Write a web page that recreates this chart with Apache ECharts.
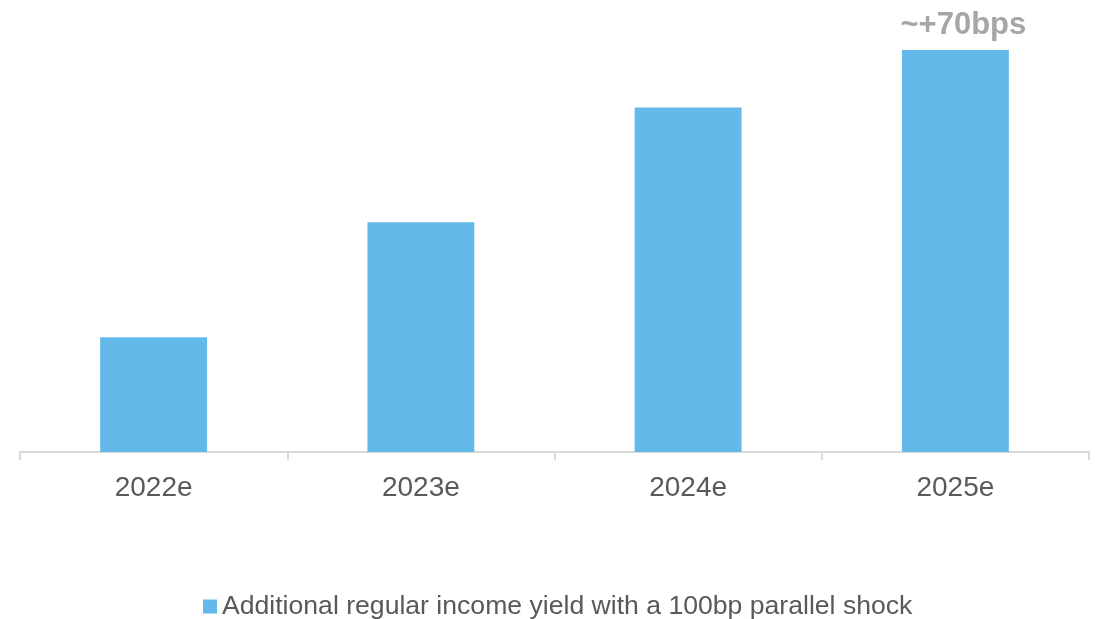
<!DOCTYPE html>
<html>
<head>
<meta charset="utf-8">
<script src="https://cdn.jsdelivr.net/npm/echarts@6/dist/echarts.min.js"></script>
<style>
  html, body { margin: 0; padding: 0; background: #ffffff; }
  #chart { width: 1095px; height: 619px; }
</style>
</head>
<body>
<div id="chart"></div>
<script>
// Years shown on the category axis
const categories = ['2022e', '2023e', '2024e', '2025e'];
// Additional regular income yield (bps) per year
const yieldBps = [20, 40, 60, 70];
const seriesName = 'Additional regular income yield with a 100bp parallel shock';
const lastLabel = '~+70bps';

const chart = echarts.init(document.getElementById('chart'), null, { renderer: 'canvas' });

chart.setOption({
  animation: false,
  backgroundColor: '#ffffff',
  grid: { left: 20, right: 6, top: 50, bottom: 167, containLabel: false },
  legend: {
    top: 588,
    left: 198,
    itemWidth: 14,
    itemHeight: 14,
    itemGap: 4,
    icon: 'rect',
    textStyle: { fontFamily: 'Liberation Sans, Arial, sans-serif', fontSize: 26.6, color: '#595959', padding: [0, 0, 0, 0] },
    data: [seriesName]
  },
  xAxis: {
    type: 'category',
    data: categories,
    boundaryGap: true,
    axisLine: { lineStyle: { color: '#d9d9d9', width: 2 } },
    axisTick: { show: true, length: 8, lineStyle: { color: '#d9d9d9', width: 2 } },
    axisLabel: {
      fontFamily: 'Liberation Sans, Arial, sans-serif',
      fontSize: 28,
      color: '#595959',
      margin: 22
    }
  },
  yAxis: {
    type: 'value',
    min: 0,
    max: 70,
    show: false,
    splitLine: { show: false }
  },
  series: [{
    name: seriesName,
    type: 'bar',
    barWidth: '40%',
    itemStyle: { color: '#63b9ea' },
    data: yieldBps.map((v, i) => i === yieldBps.length - 1 ? {
      value: v,
      label: {
        show: true,
        position: 'top',
        distance: 9,
        offset: [8, 0],
        formatter: lastLabel,
        fontFamily: 'Liberation Sans, Arial, sans-serif',
        fontWeight: 'bold',
        fontSize: 31,
        color: '#a6a6a6'
      }
    } : v)
  }]
});
</script>
</body>
</html>
